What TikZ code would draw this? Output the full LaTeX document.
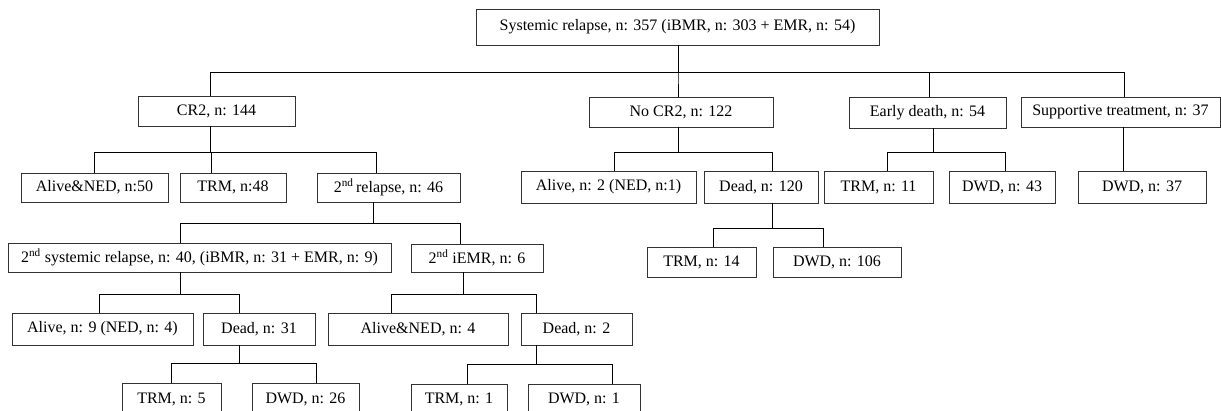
\documentclass[tikz,border=0pt]{standalone}
\usepackage{fontspec}
\setmainfont{Liberation Serif}
\tikzset{
  box/.style={draw=black!80, line width=0.8pt, inner sep=0pt, outer sep=0pt, align=center,
    font=\fontsize{16}{19}\selectfont, fill=white},
  conn/.style={draw=black, line width=0.8pt}
}
\newcommand\bx[6]{\node[box, minimum width={#3pt-#2pt}, minimum height={#5pt-#4pt}] (#1) at ({(#2+#3)/2},{(#4+#5)/2}) {#6};}
\newcommand\elb[5]{\draw[conn] (#1.south -| #2,0) -- (#2,#3) -| (#4.north -| #5,0);}
\begin{document}
\begin{tikzpicture}[x=1pt,y=-1pt]
\useasboundingbox (0,0) rectangle (1221,411);
% boxes
\bx{top}{476}{879}{9}{45}{Systemic relapse, n: 357 (iBMR, n: 303 + EMR, n: 54)}
\bx{cr2}{138}{295}{96}{126}{CR2, n: 144}
\bx{nocr2}{589}{773}{97}{127}{No CR2, n: 122}
\bx{early}{849}{1006}{97}{128}{Early death, n: 54}
\bx{supp}{1021}{1220}{97}{127}{Supportive treatment, n: 37}
\bx{a50}{21}{168}{173}{202}{Alive\&NED, n:50}
\bx{trm48}{180}{286}{173}{202}{TRM, n:48}
\bx{rel2}{317}{460}{173}{202}{2\textsuperscript{nd}\,relapse, n: 46}
\bx{alive2}{521}{696}{171}{203}{Alive, n: 2 (NED, n:1)}
\bx{dead120}{704}{818}{171}{203}{Dead, n: 120}
\bx{trm11}{824}{933}{171}{203}{TRM, n: 11}
\bx{dwd43}{949}{1055}{171}{203}{DWD, n: 43}
\bx{dwd37}{1078}{1206}{171}{203}{DWD, n: 37}
\bx{sys2}{8}{391}{243}{272}{2\textsuperscript{nd} systemic relapse, n: 40, (iBMR, n: 31 + EMR, n: 9)}
\bx{iemr2}{411}{543}{244}{272}{2\textsuperscript{nd} iEMR, n: 6}
\bx{trm14}{647}{756}{247}{277}{TRM, n: 14}
\bx{dwd106}{773}{901}{247}{277}{DWD, n: 106}
\bx{alive9}{12}{193}{313}{345}{Alive, n: 9 (NED, n: 4)}
\bx{dead31}{203}{315}{313}{345}{Dead, n: 31}
\bx{an4}{328}{508}{313}{345}{Alive\&NED, n: 4}
\bx{dead2}{521}{632}{313}{345}{Dead, n: 2}
\bx{trm5}{122}{221}{383}{415}{TRM, n: 5}
\bx{dwd26}{252}{359}{383}{415}{DWD, n: 26}
\bx{trm1}{411}{507}{384}{415}{TRM, n: 1}
\bx{dwd1}{528}{640}{384}{415}{DWD, n: 1}
% connectors
\elb{top}{678}{72}{cr2}{210}
\elb{top}{678}{72}{nocr2}{678}
\elb{top}{678}{72}{early}{929}
\elb{top}{678}{72}{supp}{1124}
\elb{cr2}{210}{152}{a50}{94}
\elb{cr2}{210}{152}{trm48}{211}
\elb{cr2}{210}{152}{rel2}{376}
\elb{rel2}{373}{223}{sys2}{180}
\elb{rel2}{373}{223}{iemr2}{460}
\elb{sys2}{180}{294}{alive9}{99}
\elb{sys2}{180}{294}{dead31}{239}
\elb{dead31}{239}{363}{trm5}{171}
\elb{dead31}{239}{363}{dwd26}{316}
\elb{iemr2}{463}{294}{an4}{391}
\elb{iemr2}{463}{294}{dead2}{536}
\elb{dead2}{536}{364}{trm1}{467}
\elb{dead2}{536}{364}{dwd1}{612}
\elb{nocr2}{678}{152}{alive2}{614}
\elb{nocr2}{678}{152}{dead120}{772}
\elb{dead120}{772}{228}{trm14}{713}
\elb{dead120}{772}{228}{dwd106}{823}
\elb{early}{933}{152}{trm11}{887}
\elb{early}{933}{152}{dwd43}{1005}
\elb{supp}{1123}{150}{dwd37}{1123}
\end{tikzpicture}
\end{document}
